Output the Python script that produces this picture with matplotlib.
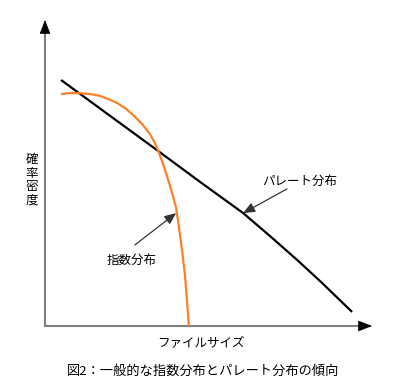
import matplotlib
matplotlib.use('Agg')
import matplotlib.pyplot as plt

plt.rcParams['font.family'] = ['Noto Sans CJK JP', 'DejaVu Sans']

# Pareto distribution curve (axes 0..100)
pareto_x = [4.9, 16.8, 34.6, 47.4, 60.6, 68.8, 77.1, 84.7, 93.9]
pareto_y = [80.4, 71.1, 57.2, 47.1, 36.9, 29.4, 21.6, 14.1, 4.6]

# exponential distribution curve
expo_x = [4.9, 7.6, 10.7, 13.8, 16.8, 19.3, 22.0, 24.5, 26.9, 29.7, 32.1,
          33.6, 34.9, 36.1, 37.3, 38.8, 40.1, 41.0, 41.9, 42.8, 43.4, 44.0]
expo_y = [75.8, 76.1, 76.1, 75.8, 75.2, 74.2, 72.9, 71.2, 69.0, 66.0, 62.7,
          59.8, 56.5, 52.9, 49.0, 43.8, 38.6, 32.0, 24.8, 16.7, 8.5, 0.0]

pareto_label = 'パレート分布'
expo_label = '指数分布'
x_label = 'ファイルサイズ'
y_label = '確率密度'
caption = '図2：一般的な指数分布とパレート分布の傾向'

fig = plt.figure(figsize=(4.0, 3.84), dpi=100)
ax = fig.add_axes([45 / 400, 58 / 384, 327 / 400, 306 / 384])
ax.set_xlim(0, 100)
ax.set_ylim(0, 100)
ax.axis('off')

# axes with arrow heads
axis_col = '#808080'
ax.plot([0, 0.97], [0, 0], color=axis_col, lw=1.5, transform=ax.transAxes, clip_on=False)
ax.plot([0, 0], [0, 0.97], color=axis_col, lw=1.5, transform=ax.transAxes, clip_on=False)
head = dict(arrowstyle='-|>,head_length=0.9,head_width=0.35',
            color='black', lw=0.5, shrinkA=0, shrinkB=0)
ax.annotate('', xy=(1.0, 0), xytext=(0.96, 0), xycoords='axes fraction',
            arrowprops=head, annotation_clip=False)
ax.annotate('', xy=(0, 1.0), xytext=(0, 0.96), xycoords='axes fraction',
            arrowprops=head, annotation_clip=False)

ax.plot(pareto_x, pareto_y, color='black', lw=1.6, solid_capstyle='butt',
        solid_joinstyle='round', clip_on=False)
ax.plot(expo_x, expo_y, color='#ff7f27', lw=1.6, solid_capstyle='butt',
        solid_joinstyle='round', clip_on=False)

arrow = dict(arrowstyle='-|>,head_length=0.7,head_width=0.3', color='#333333',
             lw=0.9, shrinkA=0, shrinkB=0)
ax.annotate('', xy=(60.6, 36.9), xytext=(74.0, 44.8), arrowprops=arrow)
ax.text(78.0, 47.1, pareto_label, fontsize=9, ha='center', va='center')
ax.annotate('', xy=(40.1, 36.9), xytext=(27.5, 26.5), arrowprops=arrow)
ax.text(26.6, 21.6, expo_label, fontsize=9, ha='center', va='center')

fig.text(32 / 400, 1 - 180 / 384, '\n'.join(y_label), fontsize=9,
         ha='center', va='center', linespacing=1.05)
fig.text(201 / 400, 1 - 343 / 384, x_label, fontsize=9, ha='center', va='center')
fig.text(203 / 400, 1 - 371 / 384, caption, fontsize=9.5, ha='center', va='center')

fig.savefig('out.png', dpi=100)
